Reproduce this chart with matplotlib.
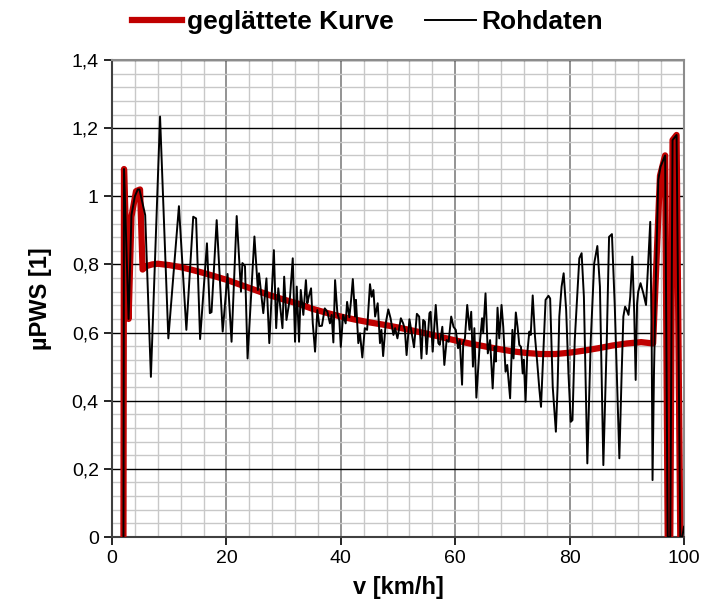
import matplotlib
matplotlib.use('Agg')
import matplotlib.pyplot as plt
from matplotlib.ticker import MultipleLocator, FuncFormatter

plt.rcParams['font.family'] = ['Liberation Sans', 'DejaVu Sans']

raw_v = [2.0, 2.1, 2.9, 3.4, 4.0, 4.5, 4.8, 5.8, 6.8, 8.4, 9.85, 11.7, 13.0, 14.2, 14.7,
         15.4, 16.6, 17.1, 17.4, 18.3, 19.35, 20.2, 20.9, 21.8, 22.55, 22.8, 23.25, 23.7,
         24.9, 25.5, 25.7, 26.45, 27.0, 27.5, 28.3, 28.7, 29.07, 29.8, 30.1, 30.5, 31.1,
         31.6, 32.0, 32.3, 32.7, 33.0, 33.45, 33.9, 34.15, 34.4, 34.8, 35.1, 35.5, 35.9,
         36.25, 36.7, 37.2, 37.65, 38.1, 38.4, 38.7, 39.0, 39.4, 39.75, 40.0, 40.4, 40.85,
         41.1, 41.5, 41.8, 42.1, 42.5, 42.65, 43.06, 43.35, 43.76, 44.2, 44.6, 45.1, 45.4,
         45.7, 46.0, 46.45, 46.85, 47.1, 47.4, 47.85, 48.3, 48.7, 49.2, 49.5, 49.9, 50.5,
         50.9, 51.2, 51.5, 52.0, 52.3, 52.8, 53.3, 53.7, 54.1, 54.4, 54.7, 55.0, 55.5,
         55.7, 56.06, 56.35, 56.6, 57.05, 57.3, 57.75, 58.1, 58.5, 58.85, 59.3, 59.7, 60.1,
         60.5, 60.8, 61.2, 61.4, 61.7, 62.1, 62.5, 62.8, 63.1, 63.35, 63.7, 64.05, 64.3,
         64.7, 64.9, 65.3, 65.7, 66.1, 66.55, 66.9, 67.1, 67.4, 67.7, 68.1, 68.4, 68.8,
         69.1, 69.6, 70.0, 70.2, 70.6, 70.9, 71.2, 71.5, 71.8, 72.0, 72.3, 72.6, 72.96,
         73.2, 73.55, 73.95, 74.35, 74.7, 75.0, 75.4, 75.8, 76.3, 76.6, 77.05, 77.6, 77.9,
         78.2, 78.6, 78.96, 79.4, 79.8, 80.2, 80.5, 80.9, 81.7, 82.1, 82.5, 83.1, 83.7,
         84.3, 84.85, 85.3, 85.9, 86.5, 86.9, 87.4, 87.9, 88.7, 89.1, 89.4, 89.7, 90.0,
         90.3, 90.6, 90.97, 91.3, 91.55, 91.8, 92.0, 92.4, 92.9, 93.36, 93.65, 94.1, 94.35,
         94.5, 94.75, 95.1, 95.5, 95.9, 96.7, 97.15, 97.6, 98.0, 98.7, 99.35, 99.7, 100.0]
raw_mu = [0.0, 1.08, 0.64, 0.945, 1.0, 1.02, 1.02, 0.945, 0.47, 1.234, 0.583, 0.971, 0.608, 0.94, 0.935,
          0.581, 0.862, 0.657, 0.66, 0.93, 0.603, 0.772, 0.573, 0.942, 0.72, 0.804, 0.795, 0.524,
          0.882, 0.725, 0.774, 0.657, 0.759, 0.569, 0.842, 0.613, 0.73, 0.613, 0.764, 0.637, 0.70,
          0.818, 0.573, 0.735, 0.573, 0.725, 0.652, 0.754, 0.686, 0.705, 0.73, 0.627, 0.544, 0.666,
          0.619, 0.62, 0.671, 0.661, 0.627, 0.652, 0.571, 0.754, 0.657, 0.635, 0.558, 0.652, 0.627,
          0.69, 0.645, 0.696, 0.757, 0.647, 0.696, 0.569, 0.598, 0.527, 0.613, 0.608, 0.742, 0.705,
          0.725, 0.647, 0.686, 0.569, 0.608, 0.531, 0.627, 0.668, 0.642, 0.593, 0.613, 0.583, 0.642,
          0.627, 0.608, 0.534, 0.639, 0.608, 0.557, 0.655, 0.647, 0.524, 0.637, 0.632, 0.537, 0.657,
          0.661, 0.544, 0.617, 0.681, 0.569, 0.564, 0.617, 0.505, 0.578, 0.573, 0.647, 0.617, 0.608,
          0.554, 0.578, 0.447, 0.569, 0.583, 0.681, 0.608, 0.661, 0.50, 0.613, 0.409, 0.505, 0.569,
          0.642, 0.60, 0.715, 0.539, 0.578, 0.436, 0.558, 0.515, 0.673, 0.583, 0.681, 0.617, 0.485,
          0.505, 0.407, 0.608, 0.524, 0.659, 0.617, 0.564, 0.558, 0.48, 0.52, 0.397, 0.539, 0.603,
          0.593, 0.709, 0.588, 0.51, 0.436, 0.382, 0.539, 0.696, 0.708, 0.70, 0.441, 0.309, 0.441,
          0.647, 0.735, 0.774, 0.666, 0.48, 0.338, 0.343, 0.578, 0.818, 0.833, 0.705, 0.216, 0.578,
          0.803, 0.854, 0.735, 0.211, 0.578, 0.881, 0.889, 0.676, 0.231, 0.48, 0.647, 0.676, 0.666,
          0.652, 0.705, 0.823, 0.657, 0.461, 0.686, 0.72, 0.745, 0.715, 0.681, 0.774, 0.925, 0.578,
          0.167, 0.48, 0.774, 1.048, 1.087, 1.12, 0.0, 0.0, 1.165, 1.18, 0.0, 0.0, 0.03]

# smoothed curve (geglaettete Kurve)
smooth_v = [2.0, 2.1, 2.9, 3.4, 4.2, 4.9, 5.35, 6.0, 7.0, 8.0, 9.0, 10.0, 12.0, 14.0, 16.0,
            18.0, 20.0, 22.5, 25.0, 27.5, 30.0, 32.5, 35.0, 37.5, 40.0, 42.5, 45.0, 47.5,
            50.0, 52.5, 55.0, 57.5, 60.0, 62.5, 65.0, 67.5, 70.0, 72.5, 75.0, 77.5, 80.0,
            82.5, 85.0, 87.5, 90.0, 92.5, 94.6, 95.8, 96.7, 97.15, 97.6, 98.0, 98.7, 99.35]
smooth_mu = [0.0, 1.08, 0.64, 0.94, 1.015, 1.02, 0.785, 0.795, 0.80, 0.802, 0.80, 0.798, 0.792,
             0.784, 0.775, 0.765, 0.755, 0.74, 0.725, 0.71, 0.697, 0.685, 0.67, 0.658, 0.647,
             0.638, 0.63, 0.623, 0.615, 0.606, 0.597, 0.587, 0.577, 0.568, 0.56, 0.552, 0.545,
             0.54, 0.537, 0.537, 0.541, 0.547, 0.554, 0.562, 0.568, 0.572, 0.568, 1.06, 1.12,
             0.0, 0.0, 1.165, 1.18, 0.0]

fig = plt.figure(figsize=(7.2, 6.1), dpi=100)
ax = fig.add_axes([112/720, 1 - 537/610, 572/720, 477/610])

ax.plot(smooth_v, smooth_mu, color='#C00000', lw=4.5, solid_joinstyle='round',
        label='geglättete Kurve', zorder=3)
ax.plot(raw_v, raw_mu, color='black', lw=1.4, label='Rohdaten', zorder=4)

ax.set_xlim(0, 100)
ax.set_ylim(0, 1.4)
ax.xaxis.set_major_locator(MultipleLocator(20))
ax.xaxis.set_minor_locator(MultipleLocator(4))
ax.yaxis.set_major_locator(MultipleLocator(0.2))
ax.yaxis.set_minor_locator(MultipleLocator(0.04))
ax.yaxis.set_major_formatter(FuncFormatter(lambda v, p: f'{v:.1f}'.rstrip('0').rstrip('.').replace('.', ',')))

ax.grid(which='minor', color='#c8c8c8', lw=1.0)
ax.grid(which='major', axis='x', color='#808080', lw=1.2)
ax.grid(which='major', axis='y', color='black', lw=1.0)
ax.set_axisbelow(True)
ax.tick_params(which='minor', length=0)
ax.tick_params(which='major', length=6, width=1.2, labelsize=14, color='black')

for s in ['top', 'right']:
    ax.spines[s].set_color('#8c8c8c')
    ax.spines[s].set_linewidth(1.5)
for s in ['left', 'bottom']:
    ax.spines[s].set_color('#404040')
    ax.spines[s].set_linewidth(1.5)

ax.set_xlabel('v [km/h]', fontsize=17, fontweight='bold', labelpad=6)
ax.set_ylabel('µPWS [1]', fontsize=17, fontweight='bold', labelpad=14)

fig.legend(loc='center', bbox_to_anchor=(367/720, 1 - 22/610), ncol=2, frameon=False,
           prop={'weight': 'bold', 'size': 19}, handlelength=1.9, handletextpad=0.2,
           columnspacing=1.2)

fig.savefig('out.png', dpi=100)
